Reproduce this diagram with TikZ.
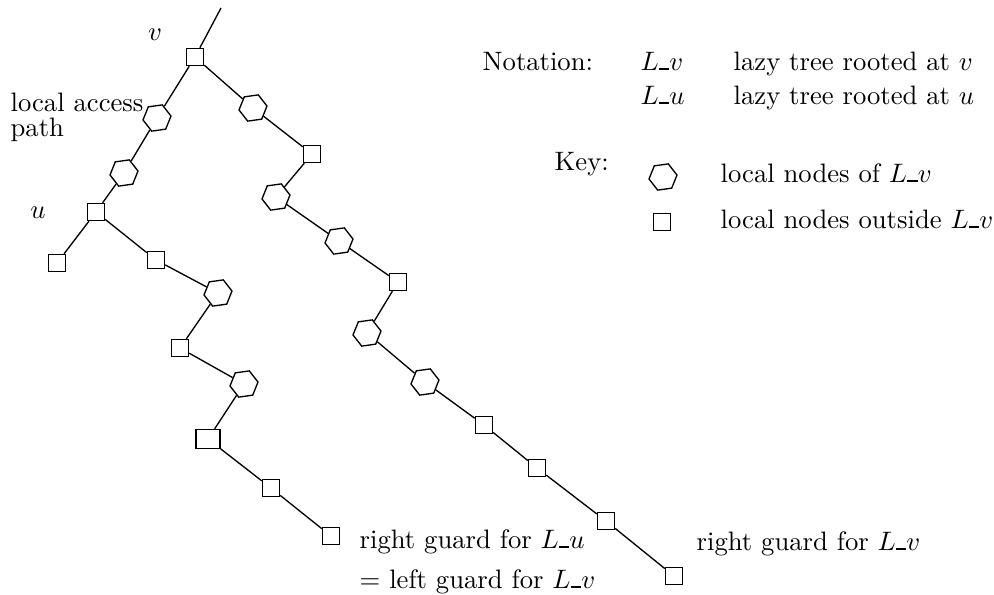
\documentclass[tikz,border=0pt]{standalone}
\usepackage{amsmath,amssymb}
\usepackage{tikz}
\usetikzlibrary{calc,shapes.geometric}
\newcommand{\us}{\mbox{\rule{4pt}{0.9pt}}}
\newcommand{\Lv}{L\us v}
\newcommand{\Lu}{L\us u}
\tikzset{
  sqnode/.style={rectangle, draw, fill=white, minimum size=6.4pt, inner sep=0pt},
  bigsq/.style={rectangle, draw, fill=white, minimum width=9pt, minimum height=7.2pt, inner sep=0pt},
  hexnode/.style={regular polygon, regular polygon sides=6, draw, fill=white, minimum size=10.6pt, inner sep=0pt, shape border rotate=8},
  lbl/.style={anchor=base west, inner sep=0pt},
}

\begin{document}
\begin{tikzpicture}[x=0.375pt, y=-0.375pt, line width=0.5pt]
  \useasboundingbox (0,0) rectangle (994,594);

  %% --- access path from v down to u ---
  \coordinate (top) at (221,8);
  \node[sqnode] (v) at (195,57) {};
  \node[hexnode] (a1) at (157,118) {};
  \node[hexnode] (a2) at (124,173) {};
  \node[sqnode] (u) at (96,212) {};

  %% --- subtree of u ---
  \node[sqnode] (u1) at (57,263) {};
  \node[sqnode] (b1) at (156,260) {};
  \node[hexnode] (b2) at (218,293) {};
  \node[sqnode] (b3) at (180,348) {};
  \node[hexnode] (b4) at (244,384) {};
  \node[bigsq] (b5) at (208,439) {};
  \node[sqnode] (b6) at (271,488) {};
  \node[sqnode] (b7) at (331,536) {};

  %% --- right spine of v ---
  \node[hexnode] (c1) at (253,108) {};
  \node[sqnode] (c2) at (312,154) {};
  \node[hexnode] (c3) at (276,197) {};
  \node[hexnode] (c4) at (339,241) {};
  \node[sqnode] (c5) at (398,282) {};
  \node[hexnode] (c6) at (367,333) {};
  \node[hexnode] (c7) at (425,382) {};
  \node[sqnode] (c8) at (484,425) {};
  \node[sqnode] (c9) at (537,468) {};
  \node[sqnode] (c10) at (606,521) {};
  \node[sqnode] (c11) at (674,576) {};

  % edges
  \draw (top) -- (v);
  \draw (v) -- (a1) -- (a2) -- (u) -- (u1);
  \draw (u) -- (b1) -- (b2) -- (b3) -- (b4) -- (b5) -- (b6) -- (b7);
  \draw (v) -- (c1) -- (c2) -- (c3) -- (c4) -- (c5) -- (c6) -- (c7) -- (c8) -- (c9) -- (c10) -- (c11);

  % labels on the tree
  \node (vlab) at (155,35) {$v$};
  \node (ulab) at (38,213) {$u$};
  \node[lbl] (acc) at (10,111) {local access};
  \node[lbl] (path) at (10,136) {path};
  \node[lbl] (gu) at (359,548) {right guard for $\Lu$};
  \node[lbl] (gl) at (359,588) {$=$ left guard for $\Lv$};
  \node[lbl] (gv) at (696,550) {right guard for $\Lv$};

  %% --- notation and key ---
  \node[lbl] (nota) at (482,70) {Notation:};
  \node[lbl] (nv) at (640,70) {$\Lv$};
  \node[lbl] (nu) at (640,104) {$\Lu$};
  \node[lbl] (tv) at (733,70) {lazy tree rooted at $v$};
  \node[lbl] (tu) at (733,104) {lazy tree rooted at $u$};

  \node[lbl] (key) at (554,170) {Key:};
  \node[hexnode] (khex) at (663,177) {};
  \node[sqnode] (ksq) at (662,222) {};
  \node[lbl] (kv) at (720,182) {local nodes of $\Lv$};
  \node[lbl] (ko) at (720,228) {local nodes outside $\Lv$};
\end{tikzpicture}
\end{document}
